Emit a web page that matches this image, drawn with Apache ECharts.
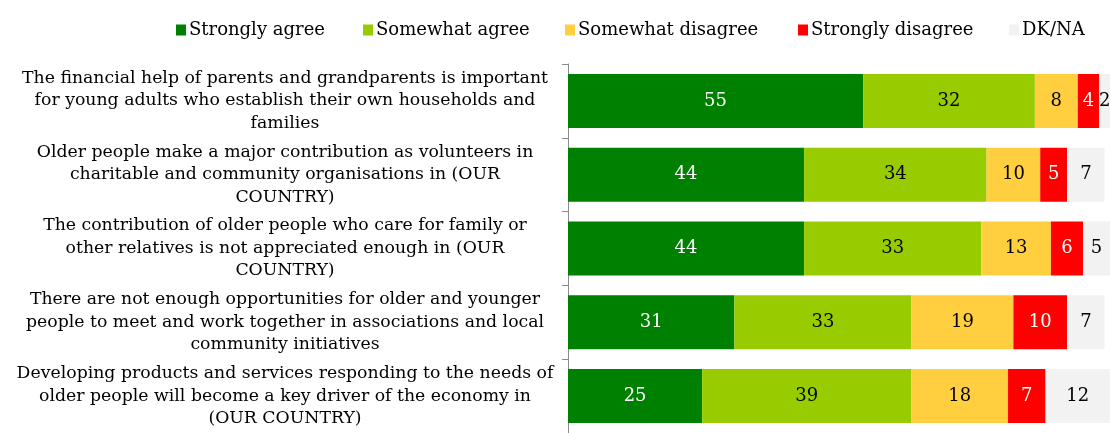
<!DOCTYPE html>
<html>
<head>
<meta charset="utf-8">
<script src="https://cdn.jsdelivr.net/npm/echarts@6/dist/echarts.min.js"></script>
<style>
  html, body { margin: 0; padding: 0; background: #fff; }
  #chart { width: 1110px; height: 433px; }
</style>
</head>
<body>
<div id="chart"></div>
<script>
// Statements (top to bottom)
const categories = [
  'The financial help of parents and grandparents is important\nfor young adults who establish their own households and\nfamilies',
  'Older people make a major contribution as volunteers in\ncharitable and community organisations in (OUR\nCOUNTRY)',
  'The contribution of older people who care for family or\nother relatives is not appreciated enough in (OUR\nCOUNTRY)',
  'There are not enough opportunities for older and younger\npeople to meet and work together in associations and local\ncommunity initiatives',
  'Developing products and services responding to the needs of\nolder people will become a key driver of the economy in\n(OUR COUNTRY)'
];

// Answer shares (%)
const stronglyAgree    = [55, 44, 44, 31, 25];
const somewhatAgree    = [32, 34, 33, 33, 39];
const somewhatDisagree = [8, 10, 13, 19, 18];
const stronglyDisagree = [4, 5, 6, 10, 7];
const dkNa             = [2, 7, 5, 7, 12];

const seriesNames = ['Strongly agree', 'Somewhat agree', 'Somewhat disagree', 'Strongly disagree', 'DK/NA'];
const seriesValues = [stronglyAgree, somewhatAgree, somewhatDisagree, stronglyDisagree, dkNa];
const seriesColors = ['#008000', '#99CC00', '#FFCF3F', '#FF0000', '#F2F2F2'];
const labelColors  = ['#ffffff', '#000000', '#000000', '#ffffff', '#000000'];

const FONT = 'DejaVu Serif';
const legendLefts = [171, 358, 560, 793, 1004];

const chart = echarts.init(document.getElementById('chart'), null, { renderer: 'canvas' });

chart.setOption({
  animation: false,
  backgroundColor: '#ffffff',
  legend: seriesNames.map((name, i) => ({
    data: [name],
    left: legendLefts[i],
    top: 16,
    itemWidth: 10,
    itemHeight: 11,
    itemGap: 0,
    icon: 'rect',
    selectedMode: false,
    textStyle: { fontFamily: FONT, fontSize: 18, color: '#000', padding: [0, 0, 0, -2] }
  })),
  grid: { left: 568, top: 64, width: 542, height: 377, containLabel: false },
  xAxis: {
    type: 'value',
    min: 0,
    max: 101,
    show: false
  },
  yAxis: {
    type: 'category',
    inverse: true,
    data: categories,
    axisLine: { show: true, lineStyle: { color: '#8c8c8c', width: 1 } },
    axisTick: { show: true, length: 6, lineStyle: { color: '#8c8c8c' } },
    axisLabel: {
      margin: 283,
      align: 'center',
      fontFamily: FONT,
      fontSize: 17.3,
      lineHeight: 22.5,
      color: '#000'
    }
  },
  series: seriesNames.map((name, i) => ({
    name,
    type: 'bar',
    stack: 'total',
    data: seriesValues[i],
    barWidth: 54,
    itemStyle: { color: seriesColors[i] },
    label: {
      show: true,
      position: 'inside',
      color: labelColors[i],
      fontFamily: FONT,
      fontSize: 18
    }
  }))
});
</script>
</body>
</html>
